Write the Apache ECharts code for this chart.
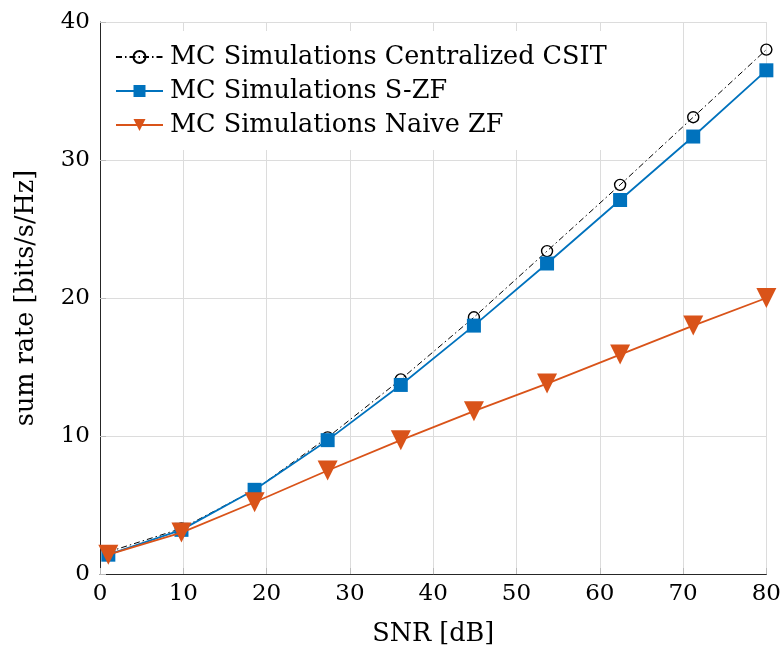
<!DOCTYPE html>
<html><head><meta charset="utf-8">
<script src="https://cdn.jsdelivr.net/npm/echarts@6/dist/echarts.min.js"></script>
<style>html,body{margin:0;padding:0;background:#fff}#c{width:784px;height:652px}</style>
</head><body><div id="c"></div>
<script>
const snr = [1, 9.78, 18.56, 27.33, 36.11, 44.89, 53.67, 62.44, 71.22, 80];
const centralized = [1.6, 3.3, 6.1, 9.9, 14.1, 18.6, 23.4, 28.2, 33.1, 38.0];
const szf = [1.4, 3.2, 6.1, 9.7, 13.7, 18.0, 22.5, 27.1, 31.7, 36.5];
const naive = [1.4, 3.0, 5.2, 7.5, 9.7, 11.8, 13.8, 15.9, 18.0, 20.0];
const names = ['MC Simulations Centralized CSIT', 'MC Simulations S-ZF', 'MC Simulations Naive ZF'];
const font = 'DejaVu Serif';
const pair = (xs, ys) => xs.map((x, i) => [x, ys[i]]);
const chart = echarts.init(document.getElementById('c'), null, {renderer: 'canvas'});
chart.setOption({
  animation: false,
  textStyle: {fontFamily: font},
  grid: {left: 100, right: 17, top: 22, bottom: 75, containLabel: false},
  xAxis: {
    type: 'value', min: 0, max: 80, interval: 10,
    name: 'SNR [dB]', nameLocation: 'middle', nameGap: 47,
    nameTextStyle: {fontFamily: font, fontSize: 25.5, color: '#000'},
    axisLine: {onZero: false, lineStyle: {color: '#262626', width: 1}},
    axisTick: {inside: true, length: 6, lineStyle: {color: '#bbb'}},
    axisLabel: {fontFamily: font, fontSize: 23, color: '#000', margin: 9},
    splitLine: {lineStyle: {color: '#dcdcdc', width: 1}}
  },
  yAxis: {
    type: 'value', min: 0, max: 40, interval: 10,
    name: 'sum rate [bits/s/Hz]', nameLocation: 'middle', nameGap: 61,
    nameTextStyle: {fontFamily: font, fontSize: 25.5, color: '#000'},
    axisLine: {show: true, onZero: false, lineStyle: {color: '#262626', width: 1}},
    axisTick: {show: true, inside: true, length: 6, lineStyle: {color: '#bbb'}},
    axisLabel: {fontFamily: font, fontSize: 23, color: '#000', margin: 10},
    splitLine: {lineStyle: {color: '#dcdcdc', width: 1}}
  },
  legend: {
    left: 101, top: 31, orient: 'vertical', itemGap: 8,
    itemWidth: 47, itemHeight: 15,
    backgroundColor: '#fff', padding: [13, 8, 12, 14],
    textStyle: {fontFamily: font, fontSize: 25.5, color: '#000', padding: [0, 0, 0, 2]},
    data: names
  },
  series: [
    {
      name: names[0], type: 'line', data: pair(snr, centralized),
      symbol: 'circle', symbolSize: 11,
      lineStyle: {color: '#000', width: 1, type: [6, 3, 1.5, 3]},
      itemStyle: {color: 'rgba(255,255,255,0)', borderColor: '#000', borderWidth: 1.4},
      z: 3
    },
    {
      name: names[1], type: 'line', data: pair(snr, szf),
      symbol: 'rect', symbolSize: 14,
      lineStyle: {color: '#0072BD', width: 1.8},
      itemStyle: {color: '#0072BD'},
      z: 4
    },
    {
      name: names[2], type: 'line', data: pair(snr, naive),
      symbol: 'triangle', symbolRotate: 180, symbolSize: 20,
      lineStyle: {color: '#D95319', width: 1.8},
      itemStyle: {color: '#D95319'},
      z: 5
    }
  ]
});
</script></body></html>
